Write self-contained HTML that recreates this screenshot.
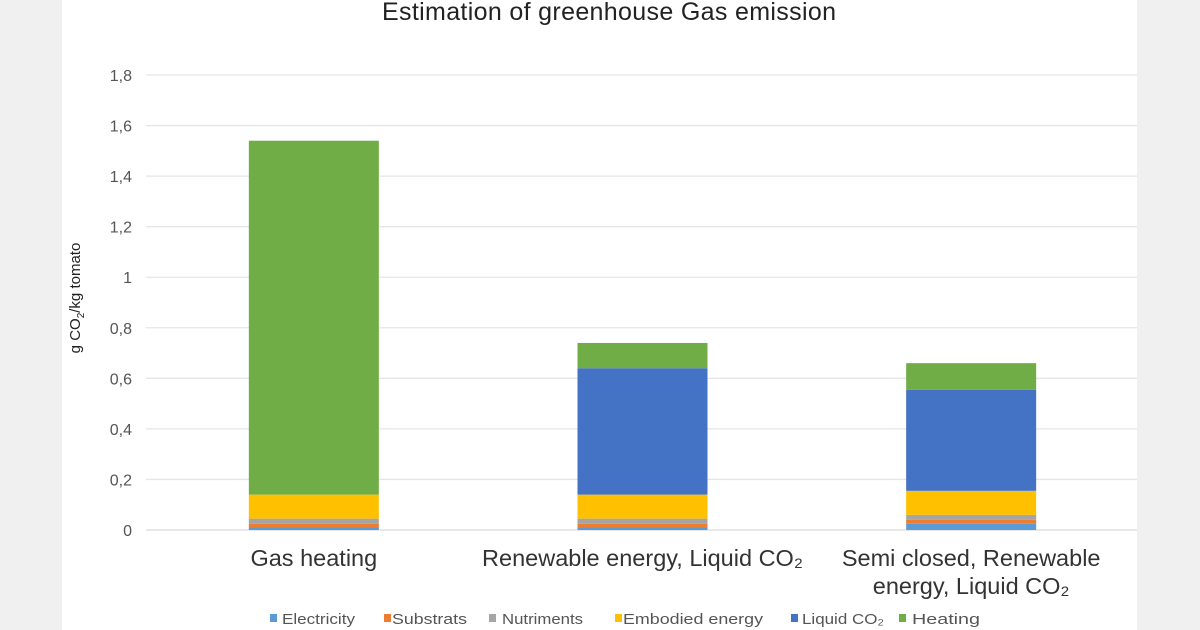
<!DOCTYPE html>
<html><head><meta charset="utf-8"><style>
html,body{margin:0;padding:0;background:#f0f0f0;}
body{width:1200px;height:630px;overflow:hidden;font-family:"Liberation Sans",sans-serif;}
</style></head><body>
<svg id="chart" width="1200" height="630" style="position:absolute;left:0;top:0">
<rect x="62" y="0" width="1075" height="630" fill="#ffffff"/>
<text x="609" y="20" text-anchor="middle" font-size="25" textLength="454" fill="#222">Estimation of greenhouse Gas emission</text>
<text transform="translate(80,298) rotate(-90)" text-anchor="middle" font-size="15" fill="#222">g CO<tspan font-size="10" dy="4">2</tspan><tspan dy="-4">/kg tomato</tspan></text>
<g id="grid"></g><g id="bars"></g><g id="xlabels"></g><g id="legend"></g>
</svg>
<script>
const categories=[["Gas heating"],["Renewable energy, Liquid CO₂"],["Semi closed, Renewable","energy, Liquid CO₂"]];
const seriesNames=["Electricity","Substrats","Nutriments","Embodied energy","Liquid CO₂","Heating"];
const electricity=[0.01,0.01,0.025];
const substrats=[0.015,0.015,0.015];
const nutriments=[0.02,0.02,0.02];
const embodied=[0.095,0.095,0.095];
const liquidCO2=[0,0.5,0.4];
const heating=[1.40,0.10,0.105];
const yTicks=[0,0.2,0.4,0.6,0.8,1,1.2,1.4,1.6,1.8];
const yTickLabels=["0","0,2","0,4","0,6","0,8","1","1,2","1,4","1,6","1,8"];
const colors=["#5b9bd5","#ed7d31","#a5a5a5","#ffc000","#4472c4","#70ad47"];
const series=[electricity,substrats,nutriments,embodied,liquidCO2,heating];
const NS="http://www.w3.org/2000/svg";
const y0=530,yMaxPx=75,yMax=1.8;
const y=v=>y0-(v/yMax)*(y0-yMaxPx);
const plotL=148,plotR=1137,bw=130;
const band=(plotR-plotL)/categories.length;
const xc=i=>plotL+band*(i+0.5)+(1-i)*1;
function mk(t,a,p){const e=document.createElementNS(NS,t);for(const k in a)e.setAttribute(k,a[k]);p.appendChild(e);return e;}
const grid=document.getElementById('grid');
yTicks.forEach((v,i)=>{
 const l=mk('line',{x1:146,x2:plotR,y1:y(v),y2:y(v),stroke:i==0?'#d9d9d9':'#e6e6e6','stroke-width':1.3},grid);
 
 
 const t=mk('text',{x:132,y:y(v)+6,'text-anchor':'end','font-size':16,fill:'#555'},grid);
 t.textContent=yTickLabels[i];
 
 
});
const bars=document.getElementById('bars');
const xl=document.getElementById('xlabels');
categories.forEach((c,i)=>{
 let acc=0;
 series.forEach((s,k)=>{
  const v=s[i]; if(v<=0)return;
  const r=mk('rect',{x:xc(i)-bw/2,y:y(acc+v),width:bw,height:y(acc)-y(acc+v),fill:colors[k]},bars);
  
  
  acc+=v;
 });
 c.forEach((line,j)=>{
  const t=mk('text',{x:xc(i),y:566+j*28,'text-anchor':'middle','font-size':23.5,fill:'#333'},xl);
  t.textContent=line;
  
  
 });
});
const lg=document.getElementById('legend');
const lsq=[270,384,489,615,791,899];
const ltx=[282,392,502,623,802,912];
const lw=[73,75,81,140,82,68];
seriesNames.forEach((n,k)=>{
 const g=mk('g',{},lg);
 
 
 mk('rect',{x:lsq[k],y:614,width:7,height:8,fill:colors[k]},g);
 const t=mk('text',{x:ltx[k],y:624,'font-size':15,fill:'#555',textLength:lw[k],lengthAdjust:'spacingAndGlyphs'},g);
 t.textContent=n;
});
</script>
</body></html>
